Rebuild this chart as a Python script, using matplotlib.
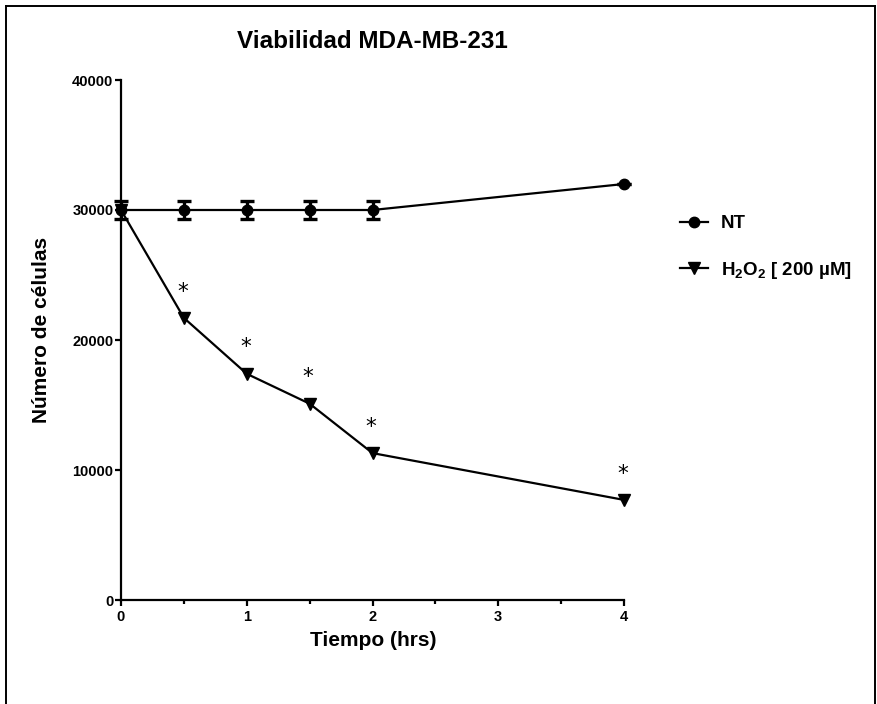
import matplotlib
matplotlib.use("Agg")
import matplotlib.pyplot as plt
from matplotlib.lines import Line2D
from matplotlib.ticker import MultipleLocator

plt.rcParams['font.family'] = ['Liberation Sans', 'DejaVu Sans']
plt.rcParams['mathtext.fontset'] = 'custom'
plt.rcParams['mathtext.rm'] = 'Liberation Sans:bold'
plt.rcParams['mathtext.bf'] = 'Liberation Sans:bold'
plt.rcParams['mathtext.it'] = 'Liberation Sans:bold'

time_hrs = [0, 0.5, 1, 1.5, 2, 4]
nt_values = [30000, 30000, 30000, 30000, 30000, 32000]
nt_err = [700, 700, 700, 700, 700, 0]
h2o2_values = [30000, 21700, 17400, 15100, 11300, 7700]
signif_x = [0.5, 1, 1.5, 2, 4]
signif_y = [21700, 17400, 15100, 11300, 7700]

title = "Viabilidad MDA-MB-231"
xlabel = "Tiempo (hrs)"
ylabel = "Número de células"
label_nt = "NT"
label_h2o2 = r"H$_2$O$_2$ [ 200 µM]"

W, H = 878, 704
fig = plt.figure(figsize=(W / 100, H / 100), dpi=100)
ax = fig.add_axes([121 / W, 1 - 600 / H, 503 / W, 520 / H])

eb = ax.errorbar(time_hrs, nt_values, yerr=nt_err, color='black', marker='o',
                 markersize=7.5, linewidth=1.6, elinewidth=2.4, capsize=5, capthick=2.4,
                 clip_on=False, zorder=3)
for art in eb.lines[1] + eb.lines[2]:
    art.set_clip_on(False)
nt_line = eb.lines[0]
h2o2_line, = ax.plot(time_hrs, h2o2_values, color='black', marker='v', markersize=8.5,
                     linewidth=1.6, clip_on=False, zorder=3)

for sx, sy in zip(signif_x, signif_y):
    ax.annotate("*", xy=(sx, sy), xytext=(-1, 19), textcoords='offset points',
                ha='center', va='center', fontsize=15.5, family='DejaVu Sans')

ax.set_xlim(0, 4)
ax.set_ylim(0, 40000)
ax.set_xticks([0, 1, 2, 3, 4])
ax.xaxis.set_minor_locator(MultipleLocator(0.5))
ax.set_yticks([0, 10000, 20000, 30000, 40000])
for s in ['top', 'right']:
    ax.spines[s].set_visible(False)
for s in ['left', 'bottom']:
    ax.spines[s].set_linewidth(1.6)
ax.tick_params(axis='both', which='major', direction='out', length=4, width=1.6,
               labelsize=10.5, pad=1.5)
ax.tick_params(axis='x', which='major', pad=3)
ax.tick_params(axis='x', which='minor', direction='out', length=3, width=1.6)
for lbl in ax.get_xticklabels() + ax.get_yticklabels():
    lbl.set_fontweight('bold')

fig.text(372 / W, 1 - 42 / H, title, ha='center', va='center', fontsize=17.5,
         fontweight='bold')
fig.text(373 / W, 1 - 640 / H, xlabel, ha='center', va='center', fontsize=15,
         fontweight='bold')
fig.text(42 / W, 1 - 330 / H, ylabel, ha='center', va='center', fontsize=15,
         fontweight='bold', rotation=90)

leg = fig.legend(handles=[nt_line, h2o2_line], labels=[label_nt, label_h2o2],
                 loc='center left', bbox_to_anchor=(680 / W, 1 - 248 / H),
                 frameon=False, fontsize=13.5, labelspacing=1.45, handlelength=1.5,
                 handletextpad=0.7, borderaxespad=0, borderpad=0)
for t in leg.get_texts():
    t.set_fontweight('bold')

# figure border (left, top, right)
fig.add_artist(Line2D([6 / W, 6 / W], [0, 1 - 6 / H], color='black', linewidth=1.4))
fig.add_artist(Line2D([6 / W, 875 / W], [1 - 6 / H, 1 - 6 / H], color='black', linewidth=1.4))
fig.add_artist(Line2D([875 / W, 875 / W], [0, 1 - 6 / H], color='black', linewidth=1.4))

fig.savefig("out.png", dpi=100)
